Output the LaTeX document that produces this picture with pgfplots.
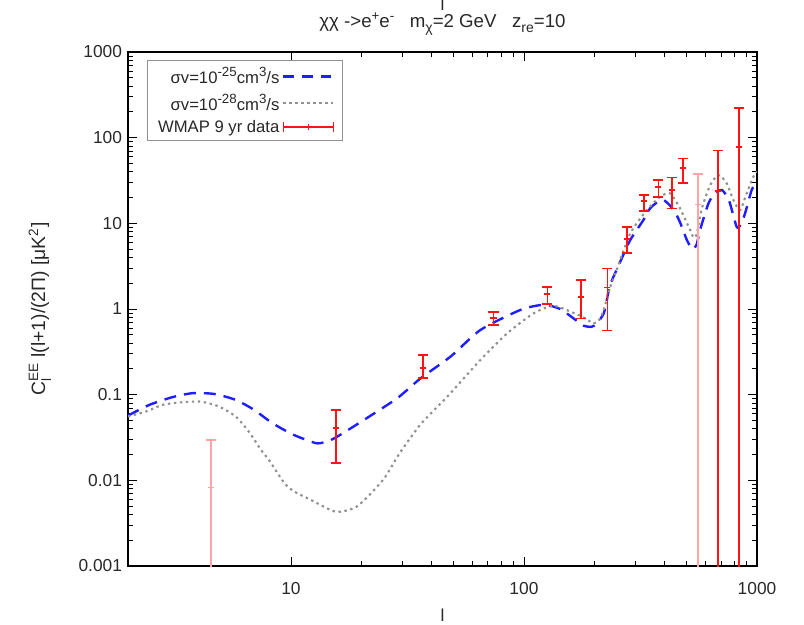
\documentclass[border=0pt]{standalone}
\usepackage{fontspec}
\setmainfont{Liberation Sans}
\usepackage{amsmath}
\usepackage{graphicx}
\usepackage{pgfplots}
\pgfplotsset{compat=1.18}
\usepackage{pgfplotstable}
\definecolor{cblue}{RGB}{30,30,255}
\definecolor{cgray}{RGB}{145,145,145}
\definecolor{cred}{RGB}{255,20,20}
\definecolor{cpink}{RGB}{255,165,165}
\definecolor{ctext}{RGB}{40,40,40}
\newcommand\sups[1]{\raisebox{0.42em}{\fontsize{10}{10}\selectfont #1}}
\newcommand\subs[1]{\raisebox{-0.25em}{\fontsize{10.5}{10}\selectfont #1}}

\pgfplotstableread{
l c
2.0 0.057
2.47 0.076
3.1 0.0935
3.78 0.104
4.68 0.102
5.79 0.087
6.95 0.0665
8.32 0.0466
10.1 0.0347
11.9 0.029
13.0 0.027
14.3 0.0284
15.85 0.0325
20.6 0.0508
28.6 0.091
36.1 0.156
48.4 0.278
65.1 0.57
96.7 0.977
121.6 1.12
143 1.0
165 0.76
180 0.64
195 0.62
206 0.68
220 0.89
227 1.28
234 1.9
259 3.57
286 6.4
326 11
348 15
375 17.8
397 18.7
420 16.5
445 13.5
468 10.2
500 6.4
528 5.0
550 5.6
570 8.4
619 17.1
660 22.5
706 24.5
740 21
766 17.1
818 9.1
850 9.6
889 13.1
949 24.5
1000 30.7
}\blue

\pgfplotstableread{
l c
2.0 0.0556
2.39 0.0636
2.81 0.076
3.31 0.081
4.1 0.083
4.92 0.0726
5.8 0.0555
6.6 0.037
7.5 0.022
8.05 0.0173
9.37 0.0093
10.33 0.0074
12.2 0.0059
15.6 0.0043
19.3 0.0050
24.9 0.0102
29.2 0.0205
36 0.045
46.9 0.095
65.1 0.255
84.7 0.52
110 0.89
134 1.09
163 0.9
180 0.8
199 0.68
210 0.74
220 0.98
235 1.83
250 2.86
286 7.65
337 14.3
385 20.5
424 22.4
467 15
516 8.4
535 6.8
552 7.6
580 15
630 28
683 36.7
741 29.4
792 18.7
846 14.3
903 22.4
964 35
1000 40
}\gray

% WMAP central values
\pgfplotstableread{
l c
15.6 0.041
36.8 0.206
74 0.787
126 1.50
176 1.38
228 1.78
277 6.58
328 18.2
377 26.6
432 24.5
482 44
681 23.9
837 77.9
}\wmapred

% WMAP error bar ends (lower, upper), nan rows separate bars
\pgfplotstableread{
l v
15.6 0.016
15.6 0.0665
15.6 nan
36.8 0.157
36.8 0.291
36.8 nan
74 0.652
74 0.925
74 nan
126 1.15
126 1.81
126 nan
176 0.78
176 2.19
176 nan
228 0.56
228 2.99
228 nan
277 4.52
277 9.08
277 nan
328 14.0
328 21.4
328 nan
377 20.3
377 32.1
377 nan
432 15.0
432 34.1
432 nan
482 29.4
482 57.5
482 nan
681 0.00001
681 70.5
681 nan
837 0.00001
837 222
}\wmapredbars

\pgfplotstableread{
l c
4.54 0.0082
559 16.7
}\wmappink

\pgfplotstableread{
l v
4.54 0.00001
4.54 0.0297
4.54 nan
559 0.00001
559 37.7
}\wmappinkbars

\begin{document}
\begin{tikzpicture}
\begin{axis}[
  xmode=log, ymode=log,
  scale only axis,
  width=471.75pt, height=385.5pt,
  xmin=2, xmax=1000, ymin=0.001, ymax=1000,
  xtick={10,100,1000}, xticklabels={10,100,1000},
  ytick={0.001,0.01,0.1,1,10,100,1000},
  yticklabels={0.001,0.01,0.1,1,10,100,1000},
  tick label style={font=\fontsize{13}{15}\selectfont, text=ctext},
  xticklabel style={yshift=-9pt},
  yticklabel style={xshift=-1pt},
  major tick length=7pt, minor tick length=3.5pt,
  tick style={black, line width=0.6pt},
  axis line style={black, line width=0.9pt},
  xlabel={l},
  xlabel style={at={(axis description cs:0.5,-0.095)}, anchor=center, font=\fontsize{13}{15}\selectfont, text=ctext},
  ylabel={C$_{\text{l}}^{\text{EE}}$ l(l+1)/(2Π) [μK\textsuperscript{2}]},
  ylabel style={at={(axis description cs:-0.140,0.5)}, anchor=center, rotate=0, font=\fontsize{14.5}{17}\selectfont, text=ctext},
  legend style={at={(axis description cs:0.030,0.984)}, anchor=north west,
    draw=cgray, line width=0.8pt, fill=white,
    font=\fontsize{12.5}{14}\selectfont, text=ctext,
    row sep=2pt, inner xsep=6pt, inner ysep=3pt},
  legend cell align=right,
  legend plot pos=right,
  unbounded coords=jump,
  clip mode=individual,
]
\addplot[cblue, line width=1.8pt, dash pattern=on 9pt off 6pt, smooth, tension=0.4,
  legend image code/.code={\draw[cblue, line width=1.8pt, dash pattern=on 8pt off 6pt] (0cm,0cm) -- (1.32cm,0cm);}]
  table[x=l,y=c]{\blue};
\addlegendentry{σv=10\sups{-25}cm\sups{3}/s}
\addplot[cgray, line width=1.6pt, dash pattern=on 1.8pt off 2.7pt, smooth, tension=0.4,
  legend image code/.code={\draw[cgray, line width=1.6pt, dash pattern=on 1.8pt off 2.7pt] (0cm,0cm) -- (1.32cm,0cm);}]
  table[x=l,y=c]{\gray};
\addlegendentry{σv=10\sups{-28}cm\sups{3}/s}
\addplot[cred, line width=1.1pt, mark=-, mark size=3.8pt,
  mark options={cred, line width=1.1pt, solid},
  legend image code/.code={
    \draw[cred, line width=1.1pt] (0cm,0cm) -- (1.32cm,0cm);
    \draw[cred, line width=1.1pt] (0cm,-4pt) -- (0cm,4pt);
    \draw[cred, line width=1.1pt] (0.66cm,-2.5pt) -- (0.66cm,2.5pt);
    \draw[cred, line width=1.1pt] (1.32cm,-4pt) -- (1.32cm,4pt);}]
  table[x=l,y=v]{\wmapredbars};
\addlegendentry{WMAP 9 yr data}
\addplot[cred, only marks, mark=-, mark size=2.3pt, mark options={cred, line width=1.1pt}]
  table[x=l,y=c]{\wmapred};
\addplot[cpink, line width=1.1pt, mark=-, mark size=3.8pt, mark options={cpink, line width=1.1pt}]
  table[x=l,y=v]{\wmappinkbars};
\addplot[cpink, only marks, mark=-, mark size=2.3pt, mark options={cpink, line width=1.1pt}]
  table[x=l,y=c]{\wmappink};
\node[font=\fontsize{14}{16}\selectfont, text=ctext, anchor=center, inner sep=0pt] at (axis description cs:0.5,1.0545)
  {χχ ->e\sups{+}e\sups{-}\ \ \ m\subs{χ}=2 GeV\ \ \ z\subs{re}=10};
\node[font=\fontsize{13}{15}\selectfont, text=ctext, anchor=base, inner sep=0pt] at (axis description cs:0.5,1.0800) {l};
\end{axis}
\pgfresetboundingbox
\path[use as bounding box] (-96pt,-44.25pt) rectangle (507pt,424.5pt);
\end{tikzpicture}
\end{document}
